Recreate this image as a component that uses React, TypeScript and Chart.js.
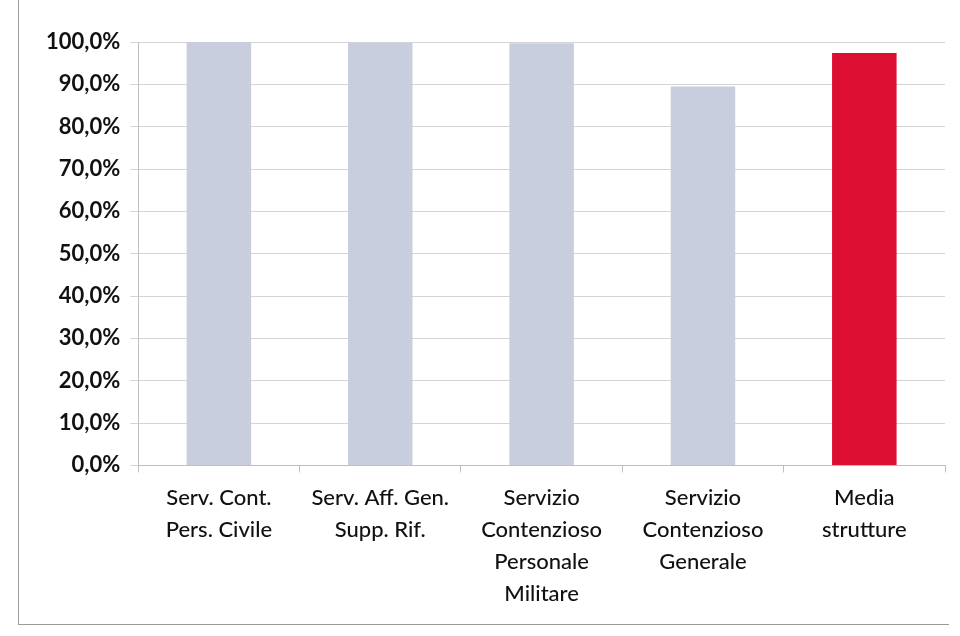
import React, { useEffect, useRef } from "react";
import { Chart, registerables } from "chart.js";

Chart.register(...registerables);

const categories: string[][] = [
  ["Serv. Cont.", "Pers. Civile"],
  ["Serv. Aff. Gen.", "Supp. Rif."],
  ["Servizio", "Contenzioso", "Personale", "Militare"],
  ["Servizio", "Contenzioso", "Generale"],
  ["Media", "strutture"],
];
const values: number[] = [1.0, 0.998, 0.997, 0.895, 0.974];
const barColors: string[] = ["#c9cede", "#c9cede", "#c9cede", "#c9cede", "#dc0f32"];
const yTicks: number[] = [0, 0.1, 0.2, 0.3, 0.4, 0.5, 0.6, 0.7, 0.8, 0.9, 1.0];

export default function App() {
  const ref = useRef<HTMLCanvasElement | null>(null);
  useEffect(() => {
    if (!ref.current) return;
    const font = "Lato, 'Open Sans', sans-serif";
    const chart = new Chart(ref.current, {
      type: "bar",
      data: {
        labels: categories,
        datasets: [
          {
            data: values,
            backgroundColor: barColors,
            barPercentage: 0.4,
            categoryPercentage: 1.0,
          },
        ],
      },
      options: {
        animation: false,
        responsive: false,
        maintainAspectRatio: false,
        layout: { padding: { top: 42, right: 15, bottom: 16, left: 36 } },
        plugins: { legend: { display: false }, tooltip: { enabled: false } },
        scales: {
          x: {
            grid: {
              display: true,
              drawOnChartArea: false,
              drawTicks: true,
              tickLength: 7,
              offset: true,
              color: "#bfbfbf",
            },
            border: { display: true, color: "#bfbfbf" },
            ticks: {
              color: "#111",
              font: { family: font, size: 22, weight: 500 as any, lineHeight: 1.45 },
              maxRotation: 0,
              autoSkip: false,
              padding: 10,
            },
          },
          y: {
            min: 0,
            max: 1,
            afterBuildTicks: (axis: any) => {
              axis.ticks = yTicks.map((v) => ({ value: v }));
            },
            grid: {
              color: "#d4d4d4",
              tickLength: 8,
              drawTicks: true,
            },
            border: { display: true, color: "#bfbfbf" },
            ticks: {
              color: "#111",
              font: { family: font, size: 22, weight: "bold" },
              padding: 10,
              callback: (v: any) => (Number(v) * 100).toFixed(1).replace(".", ",") + "%",
            },
          },
        },
      },
    });
    return () => chart.destroy();
  }, []);
  return (
    <div style={{ position: "absolute", left: 0, top: 0, width: 960, height: 636, background: "#fff" }}>
      <div
        style={{
          position: "absolute",
          left: 18,
          top: 0,
          width: 930,
          height: 624,
          borderLeft: "1.5px solid #9a9a9a",
          borderBottom: "1.5px solid #9a9a9a",
        }}
      />
      <canvas ref={ref} width={960} height={636} style={{ position: "absolute", left: 0, top: 0 }} />
    </div>
  );
}
